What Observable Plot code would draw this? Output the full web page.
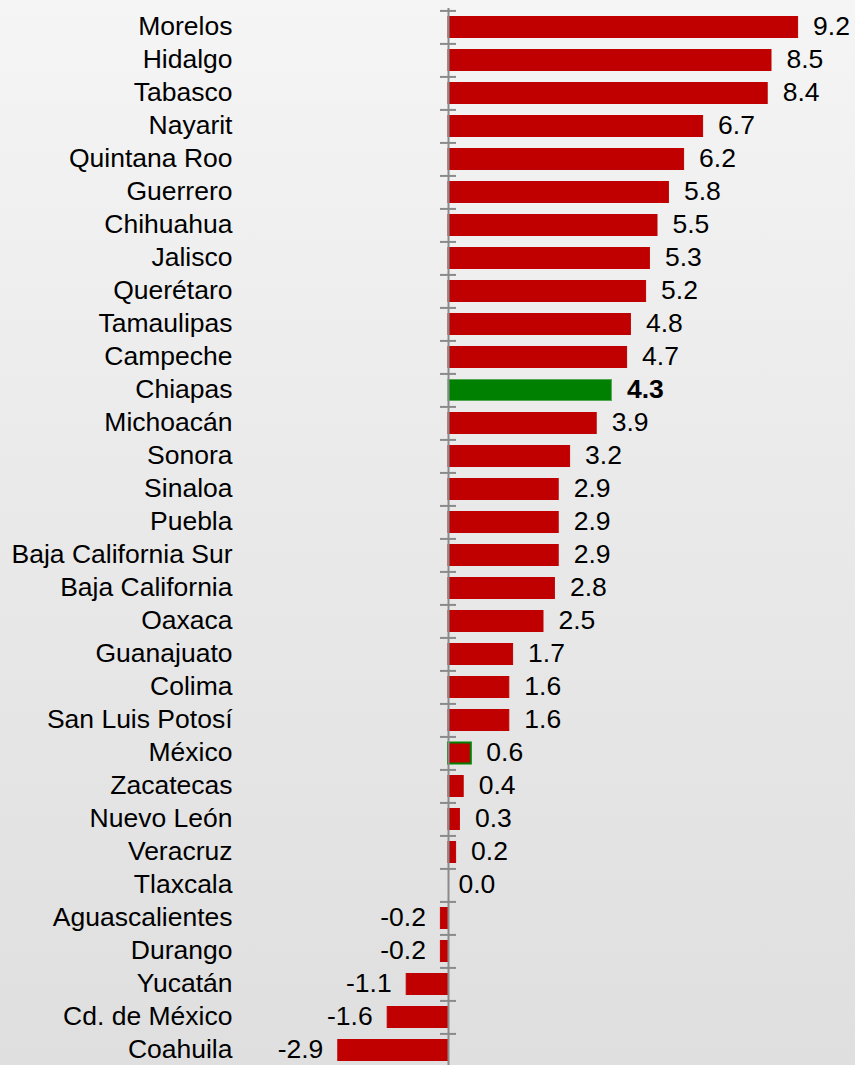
<!DOCTYPE html>
<html>
<head>
<meta charset="utf-8">
<script src="https://cdn.jsdelivr.net/npm/d3@7"></script>
<script src="https://cdn.jsdelivr.net/npm/@observablehq/plot@0.6"></script>
<style>
  html, body { margin: 0; padding: 0; }
  body { width: 855px; height: 1065px; overflow: hidden;
         background: linear-gradient(#f5f5f5, #eaeaea 45%, #dfdfdf); }
  #chart svg { display: block; background: transparent; }
</style>
</head>
<body>
<div id="chart"></div>
<script>
const states = ["Morelos","Hidalgo","Tabasco","Nayarit","Quintana Roo","Guerrero","Chihuahua","Jalisco","Querétaro","Tamaulipas","Campeche","Chiapas","Michoacán","Sonora","Sinaloa","Puebla","Baja California Sur","Baja California","Oaxaca","Guanajuato","Colima","San Luis Potosí","México","Zacatecas","Nuevo León","Veracruz","Tlaxcala","Aguascalientes","Durango","Yucatán","Cd. de México","Coahuila"];
const values = [9.2,8.5,8.4,6.7,6.2,5.8,5.5,5.3,5.2,4.8,4.7,4.3,3.9,3.2,2.9,2.9,2.9,2.8,2.5,1.7,1.6,1.6,0.6,0.4,0.3,0.2,0.0,-0.2,-0.2,-1.1,-1.6,-2.9];
const valueLabels = ["9.2","8.5","8.4","6.7","6.2","5.8","5.5","5.3","5.2","4.8","4.7","4.3","3.9","3.2","2.9","2.9","2.9","2.8","2.5","1.7","1.6","1.6","0.6","0.4","0.3","0.2","0.0","-0.2","-0.2","-1.1","-1.6","-2.9"];
const highlight = "Chiapas";
const national = "México";

const data = states.map((s, i) => ({state: s, value: values[i], label: valueLabels[i]}));

const W = 855, H = 1065, mTop = 8, mBottom = -4;
const step = (H - mBottom - mTop) / states.length;
const font = "'Liberation Sans', Arial, sans-serif";
const fs = 26.5;

const chart = Plot.plot({
  width: W,
  height: H,
  marginTop: mTop,
  marginBottom: mBottom,
  marginLeft: 0,
  marginRight: 0,
  style: {fontFamily: font, background: "transparent"},
  x: {domain: [-448/38, (W - 448)/38], axis: null},
  y: {domain: states, paddingInner: 0.34, paddingOuter: 0.17, axis: null},
  marks: [
    Plot.barX(data, {
      y: "state", x: "value",
      fill: d => d.state === highlight ? "#008000" : "#C00000",
      stroke: d => d.state === highlight ? "#4fa84f" : d.state === national ? "#008000" : "#C00000",
      strokeWidth: d => d.state === national ? 2 : 1,
      insetTop: 0.5, insetBottom: 0.5
    }),
    Plot.ruleX([0], {stroke: "#8a8a8a", strokeWidth: 2}),
    Plot.ruleY(states, {y: d => d, x1: -8/38, x2: 8/38, dy: -step/2, stroke: "#8a8a8a", strokeWidth: 2}),
    Plot.text(states, {
      y: d => d, frameAnchor: "left", dx: 232, dy: -1, textAnchor: "end",
      fontSize: fs, fill: "#000"
    }),
    Plot.text(data.filter(d => d.value > 0 && d.state !== highlight), {
      y: "state", x: "value", text: "label", textAnchor: "start", dx: 15, dy: -1,
      fontSize: fs, fill: "#000"
    }),
    Plot.text(data.filter(d => d.state === highlight), {
      y: "state", x: "value", text: "label", textAnchor: "start", dx: 15, dy: -1,
      fontSize: fs, fontWeight: "bold", fill: "#000"
    }),
    Plot.text(data.filter(d => d.value === 0), {
      y: "state", x: "value", text: "label", textAnchor: "start", dx: 10, dy: -1,
      fontSize: fs, fill: "#000"
    }),
    Plot.text(data.filter(d => d.value < 0), {
      y: "state", x: "value", text: "label", textAnchor: "end", dx: -15, dy: -1,
      fontSize: fs, fill: "#000"
    })
  ]
});
document.getElementById("chart").appendChild(chart);
</script>
</body>
</html>
